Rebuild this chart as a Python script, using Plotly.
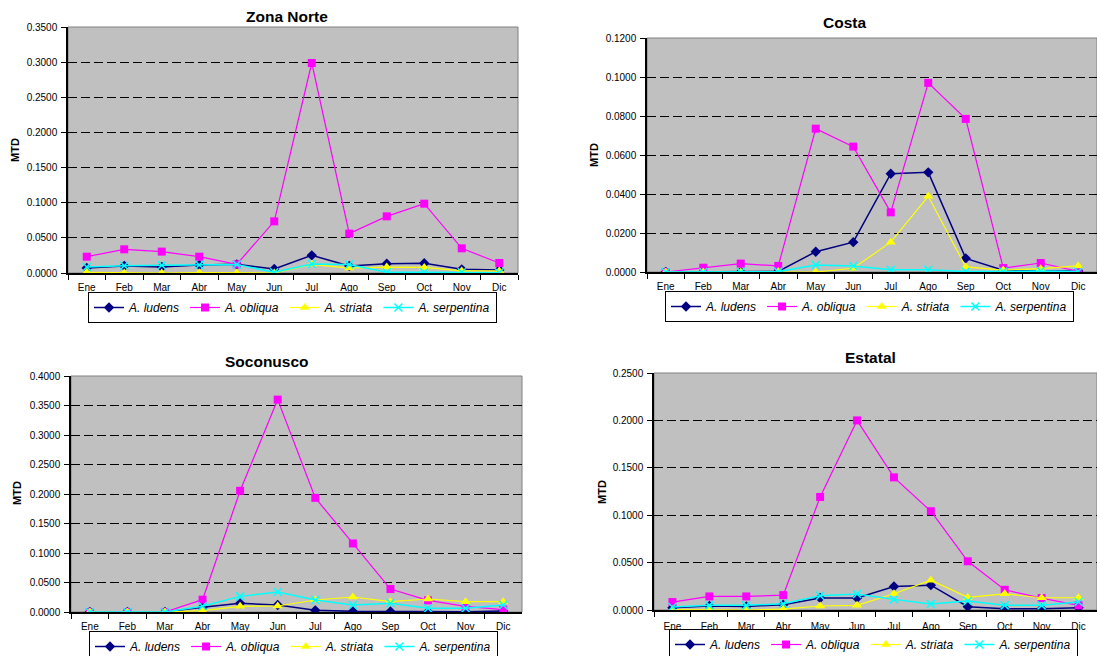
import plotly.graph_objects as go

months = ["Ene", "Feb", "Mar", "Abr", "May", "Jun", "Jul", "Ago", "Sep", "Oct", "Nov", "Dic"]
species = ["A. ludens", "A. obliqua", "A. striata", "A. serpentina"]

# Zona Norte
norte_ludens = [0.0071, 0.0100, 0.0085, 0.0114, 0.0123, 0.0057, 0.0251, 0.0100, 0.0133, 0.0138, 0.0052, 0.0043]
norte_obliqua = [0.0232, 0.0337, 0.0304, 0.0232, 0.0123, 0.0735, 0.2988, 0.0560, 0.0806, 0.0986, 0.0351, 0.0142]
norte_striata = [0.0010, 0.0000, 0.0000, 0.0005, 0.0000, 0.0000, 0.0123, 0.0070, 0.0085, 0.0080, 0.0030, 0.0030]
norte_serpentina = [0.0085, 0.0104, 0.0110, 0.0114, 0.0120, 0.0010, 0.0128, 0.0120, 0.0010, 0.0010, 0.0010, 0.0005]

# Costa
costa_ludens = [0.0000, 0.0000, 0.0000, 0.0003, 0.0104, 0.0153, 0.0504, 0.0511, 0.0070, 0.0009, 0.0005, 0.0005]
costa_obliqua = [0.0000, 0.0022, 0.0043, 0.0031, 0.0735, 0.0643, 0.0306, 0.0970, 0.0785, 0.0020, 0.0046, 0.0003]
costa_striata = [0.0000, 0.0000, 0.0000, 0.0002, 0.0000, 0.0019, 0.0153, 0.0388, 0.0026, 0.0010, 0.0017, 0.0031]
costa_serpentina = [0.0000, 0.0000, 0.0000, 0.0002, 0.0036, 0.0031, 0.0012, 0.0012, 0.0002, 0.0003, 0.0005, 0.0002]

# Soconusco
soco_ludens = [0.0000, 0.0000, 0.0000, 0.0079, 0.0147, 0.0118, 0.0028, 0.0011, 0.0010, 0.0006, 0.0006, 0.0017]
soco_obliqua = [0.0000, 0.0000, 0.0000, 0.0209, 0.2054, 0.3600, 0.1935, 0.1162, 0.0389, 0.0197, 0.0096, 0.0040]
soco_striata = [0.0000, 0.0000, 0.0000, 0.0023, 0.0096, 0.0102, 0.0203, 0.0254, 0.0175, 0.0220, 0.0175, 0.0175]
soco_serpentina = [0.0000, 0.0000, 0.0000, 0.0096, 0.0265, 0.0338, 0.0203, 0.0118, 0.0147, 0.0062, 0.0062, 0.0118]

# Estatal
est_ludens = [0.0024, 0.0042, 0.0038, 0.0056, 0.0126, 0.0126, 0.0248, 0.0262, 0.0035, 0.0014, 0.0014, 0.0024]
est_obliqua = [0.0084, 0.0143, 0.0143, 0.0157, 0.1192, 0.2000, 0.1399, 0.1042, 0.0514, 0.0213, 0.0126, 0.0049]
est_striata = [0.0003, 0.0000, 0.0000, 0.0010, 0.0042, 0.0049, 0.0171, 0.0315, 0.0133, 0.0171, 0.0129, 0.0129]
est_serpentina = [0.0031, 0.0049, 0.0049, 0.0066, 0.0150, 0.0168, 0.0112, 0.0063, 0.0094, 0.0049, 0.0049, 0.0084]

titles = ["Zona Norte", "Costa", "Soconusco", "Estatal"]
y_max = [0.35, 0.12, 0.40, 0.25]
y_step = [0.05, 0.02, 0.05, 0.05]

panels = [
    [norte_ludens, norte_obliqua, norte_striata, norte_serpentina],
    [costa_ludens, costa_obliqua, costa_striata, costa_serpentina],
    [soco_ludens, soco_obliqua, soco_striata, soco_serpentina],
    [est_ludens, est_obliqua, est_striata, est_serpentina],
]

W, H = 1097, 656
# plot area pixel boxes: (left, right, top, bottom)
boxes = [(68, 518, 27, 273), (647, 1097, 38, 272), (71, 522, 376, 612), (654, 1097, 373, 610)]
title_pos = [(287, 16), (844, 22), (267, 361), (870, 357)]
mtd_pos = [(15, 150), (594, 155), (17, 493), (602, 492)]
legend_pos = [(88, 292), (665, 291), (89, 631), (669, 629)]
xlabel_standoff = [4, 4, 4, 6]

styles = [
    dict(color="#000080", symbol="diamond", size=8, lw=1.5),
    dict(color="#FF00FF", symbol="square", size=8, lw=1.2),
    dict(color="#FFFF00", symbol="triangle-up", size=9, lw=1.2),
    dict(color="#00FFFF", symbol="x-thin-open", size=8, lw=1.5),
]

FONT = "Arial, Liberation Sans, sans-serif"

fig = go.Figure()
annotations = []
shapes = []
layout = {}

for i in range(4):
    xa = "x" if i == 0 else f"x{i+1}"
    ya = "y" if i == 0 else f"y{i+1}"
    lg = "legend" if i == 0 else f"legend{i+1}"
    for s in range(4):
        st = styles[s]
        marker = dict(symbol=st["symbol"], size=st["size"], color=st["color"],
                      line=dict(color=st["color"], width=1.5 if s == 3 else 0))
        fig.add_trace(go.Scatter(
            x=months, y=panels[i][s], name=species[s], mode="lines+markers",
            line=dict(color=st["color"], width=st["lw"]), marker=marker,
            xaxis=xa, yaxis=ya, legend=lg, showlegend=True,
        ))
    l, r, t, b = boxes[i]
    xkey = "xaxis" if i == 0 else f"xaxis{i+1}"
    ykey = "yaxis" if i == 0 else f"yaxis{i+1}"
    layout[xkey] = dict(
        domain=[l / W, r / W], anchor=ya, type="category",
        categoryorder="array", categoryarray=months, range=[-0.5, 11.5],
        showline=True, linecolor="black", linewidth=1.5,
        ticks="outside", tickson="boundaries", ticklen=5, tickcolor="black",
        ticklabelstandoff=xlabel_standoff[i],
        showgrid=False, tickfont=dict(family=FONT, size=10, color="black"),
        fixedrange=True, automargin=False,
    )
    n_ticks = int(round(y_max[i] / y_step[i]))
    tickvals = [round(k * y_step[i], 4) for k in range(n_ticks + 1)]
    layout[ykey] = dict(
        domain=[1 - b / H, 1 - t / H], anchor=xa, range=[0, y_max[i]],
        tickvals=tickvals, tickformat=".4f",
        showline=True, linecolor="black", linewidth=1.5,
        ticks="outside", ticklen=5, tickcolor="black", ticklabelstandoff=2,
        showgrid=True, gridcolor="black", griddash="9px,4px", gridwidth=1,
        zeroline=False, tickfont=dict(family=FONT, size=10, color="black"),
        fixedrange=True, automargin=False,
    )
    lx, ly = legend_pos[i]
    layout[lg] = dict(
        x=lx / W, y=1 - ly / H, xanchor="left", yanchor="top",
        orientation="h", bgcolor="white", bordercolor="black", borderwidth=1,
        font=dict(family=FONT, size=12, color="black", style="italic"),
        tracegroupgap=0, itemwidth=30,
    )
    shapes.append(dict(type="rect", xref="paper", yref="paper",
                       x0=l / W, x1=r / W, y0=1 - b / H, y1=1 - t / H,
                       line=dict(color="#808080", width=1), fillcolor="rgba(0,0,0,0)",
                       layer="below"))
    tx, ty = title_pos[i]
    annotations.append(dict(text=f"<b>{titles[i]}</b>", x=tx / W, y=1 - ty / H,
                            xref="paper", yref="paper", showarrow=False,
                            font=dict(family=FONT, size=15.5, color="black"),
                            xanchor="center", yanchor="middle"))
    mx, my = mtd_pos[i]
    annotations.append(dict(text="<b>MTD</b>", x=mx / W, y=1 - my / H,
                            xref="paper", yref="paper", showarrow=False, textangle=-90,
                            font=dict(family=FONT, size=11, color="black"),
                            xanchor="center", yanchor="middle"))

fig.update_layout(
    width=W, height=H, margin=dict(l=0, r=0, t=0, b=0, autoexpand=False),
    paper_bgcolor="white", plot_bgcolor="#C0C0C0",
    annotations=annotations, shapes=shapes, **layout,
)

fig.write_html(
    "out.html",
    config={"displayModeBar": False},
    post_script="document.body.style.margin='0px';document.body.style.overflow='hidden';",
)
